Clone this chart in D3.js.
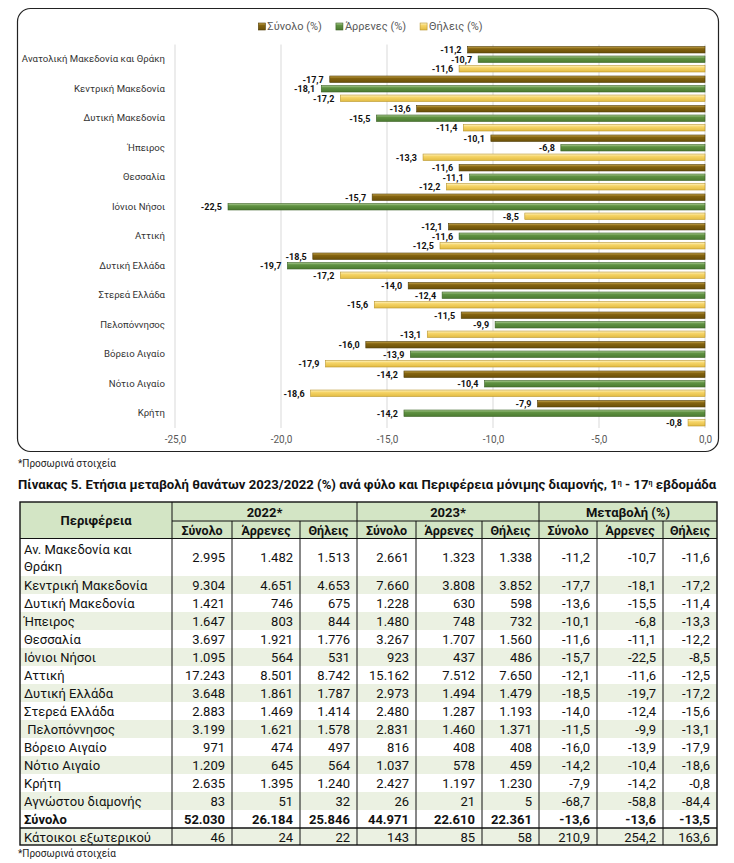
<!DOCTYPE html>
<html>
<head>
<meta charset="utf-8">
<script src="https://cdn.jsdelivr.net/npm/d3@7"></script>
<style>
  body { margin: 0; background: #fff; }
  svg { display: block; font-family: Roboto, "Open Sans", "Noto Sans", sans-serif; }
</style>
</head>
<body>
<div id="chart"></div>
<script>
// ---- chart data ----
const chartRegions = ["Ανατολική Μακεδονία και Θράκη", "Κεντρική Μακεδονία", "Δυτική Μακεδονία", "Ήπειρος",
  "Θεσσαλία", "Ιόνιοι Νήσοι", "Αττική", "Δυτική Ελλάδα", "Στερεά Ελλάδα", "Πελοπόννησος",
  "Βόρειο Αιγαίο", "Νότιο Αιγαίο", "Κρήτη"];
const seriesNames = ["Σύνολο (%)", "Άρρενες (%)", "Θήλεις (%)"];
const xTicks = [-25, -20, -15, -10, -5, 0];

// ---- table data ----
const tableRegions = ["Αν. Μακεδονία και|Θράκη", "Κεντρική Μακεδονία", "Δυτική Μακεδονία", "Ήπειρος",
  "Θεσσαλία", "Ιόνιοι Νήσοι", "Αττική", "Δυτική Ελλάδα", "Στερεά Ελλάδα", " Πελοπόννησος",
  "Βόρειο Αιγαίο", "Νότιο Αιγαίο", "Κρήτη", "Αγνώστου διαμονής", "Σύνολο", "Κάτοικοι εξωτερικού"];
const yearGroups = ["2022*", "2023*", "Μεταβολή (%)"];
const subHeaders = ["Σύνολο", "Άρρενες", "Θήλεις"];
const total2022 = [2995, 9304, 1421, 1647, 3697, 1095, 17243, 3648, 2883, 3199, 971, 1209, 2635, 83, 52030, 46];
const male2022 = [1482, 4651, 746, 803, 1921, 564, 8501, 1861, 1469, 1621, 474, 645, 1395, 51, 26184, 24];
const female2022 = [1513, 4653, 675, 844, 1776, 531, 8742, 1787, 1414, 1578, 497, 564, 1240, 32, 25846, 22];
const total2023 = [2661, 7660, 1228, 1480, 3267, 923, 15162, 2973, 2480, 2831, 816, 1037, 2427, 26, 44971, 143];
const male2023 = [1323, 3808, 630, 748, 1707, 437, 7512, 1494, 1287, 1460, 408, 578, 1197, 21, 22610, 85];
const female2023 = [1338, 3852, 598, 732, 1560, 486, 7650, 1479, 1193, 1371, 408, 459, 1230, 5, 22361, 58];
const changeTotal = [-11.2, -17.7, -13.6, -10.1, -11.6, -15.7, -12.1, -18.5, -14.0, -11.5, -16.0, -14.2, -7.9, -68.7, -13.6, 210.9];
const changeMale = [-10.7, -18.1, -15.5, -6.8, -11.1, -22.5, -11.6, -19.7, -12.4, -9.9, -13.9, -10.4, -14.2, -58.8, -13.6, 254.2];
const changeFemale = [-11.6, -17.2, -11.4, -13.3, -12.2, -8.5, -12.5, -17.2, -15.6, -13.1, -17.9, -18.6, -0.8, -84.4, -13.5, 163.6];

const WIDTH = 734;
const HEIGHT = 863;

var locale = d3.formatLocale({ decimal: ",", thousands: ".", grouping: [3], currency: ["", "€"], minus: "-" });
var fmtInt = locale.format(",d");
var fmtPct = locale.format(",.1f");

const svg = d3.select("#chart")
  .append("svg")
  .attr("width", WIDTH)
  .attr("height", HEIGHT);

// bar gradients (Excel-like bevel)
var palette = [
  { light: "#c9a84e", base: "#846410", dark: "#6a5008", stroke: "#4e3b06" },
  { light: "#afcf95", base: "#609242", dark: "#4b7a30", stroke: "#3a6023" },
  { light: "#fff4c4", base: "#f6d568", dark: "#e2bb42", stroke: "#b8952c" }
];
var defs = svg.append("defs");
palette.forEach(function (p, i) {
  var g = defs.append("linearGradient").attr("id", "grad" + i)
    .attr("x1", 0).attr("y1", 0).attr("x2", 0).attr("y2", 1);
  g.append("stop").attr("offset", "0%").attr("stop-color", p.light);
  g.append("stop").attr("offset", "35%").attr("stop-color", p.base);
  g.append("stop").attr("offset", "100%").attr("stop-color", p.dark);
});

// frame
svg.append("rect")
  .attr("x", 17.5).attr("y", 8.5)
  .attr("width", 701).attr("height", 443)
  .attr("rx", 13)
  .style("fill", "none")
  .style("stroke", "#222")
  .style("stroke-width", 1.2);

// scales
var x = d3.scaleLinear().domain([-25, 0]).range([175, 705]);
var y = d3.scaleBand().domain(chartRegions).range([44.5, 428]).padding(0);
var ySub = d3.scaleBand().domain(d3.range(seriesNames.length)).range([0, y.bandwidth()])
  .paddingInner(0.32).paddingOuter(0.21);

// gridlines
svg.append("g").selectAll("line")
  .data(xTicks)
  .enter().append("line")
  .attr("x1", d => x(d)).attr("x2", d => x(d))
  .attr("y1", 44.5).attr("y2", 428)
  .style("stroke", "#d9d9d9")
  .style("stroke-width", 1);

// x axis
var xAxis = svg.append("g")
  .attr("transform", "translate(0,428)")
  .call(d3.axisBottom(x).tickValues(xTicks).tickFormat(fmtPct).tickSize(0).tickPadding(8));
xAxis.select(".domain").remove();
xAxis.selectAll("text")
  .style("font-family", "Roboto, sans-serif")
  .style("font-size", "10px")
  .style("fill", "#595959");

// y axis (category names)
var yAxis = svg.append("g")
  .attr("transform", "translate(175,0)")
  .call(d3.axisLeft(y).tickSize(0).tickPadding(10));
yAxis.select(".domain").remove();
yAxis.selectAll("text")
  .style("font-family", "Roboto, sans-serif")
  .style("font-size", "9.6px")
  .style("fill", "#333");

// bars + labels
var seriesData = [changeTotal, changeMale, changeFemale].map(function (arr, s) {
  return chartRegions.map(function (r, i) { return { region: r, s: s, v: arr[i] }; });
});

var bars = svg.append("g");
seriesData.forEach(function (rows, s) {
  bars.selectAll(".bar" + s)
    .data(rows)
    .enter().append("rect")
    .attr("class", "bar" + s)
    .attr("x", d => x(d.v))
    .attr("y", d => y(d.region) + ySub(s))
    .attr("width", d => x(0) - x(d.v))
    .attr("height", ySub.bandwidth())
    .style("fill", "url(#grad" + s + ")")
    .style("stroke", palette[s].stroke)
    .style("stroke-width", 0.6);

  bars.selectAll(".lab" + s)
    .data(rows)
    .enter().append("text")
    .attr("class", "lab" + s)
    .attr("x", d => x(d.v) - 6)
    .attr("y", d => y(d.region) + ySub(s) + ySub.bandwidth() / 2 + 0.5)
    .attr("text-anchor", "end")
    .attr("dominant-baseline", "central")
    .style("font-size", "9px")
    .style("font-weight", "bold")
    .style("fill", "#111")
    .text(d => fmtPct(d.v));
});

// legend
var legend = svg.append("g");
var legendX = 0;
seriesNames.forEach(function (name, s) {
  var item = legend.append("g").attr("transform", "translate(" + legendX + ",0)");
  item.append("rect")
    .attr("x", 0).attr("y", -3.5)
    .attr("width", 7).attr("height", 7)
    .style("fill", "url(#grad" + s + ")")
    .style("stroke", palette[s].stroke)
    .style("stroke-width", 0.6);
  var t = item.append("text")
    .attr("x", 9).attr("y", 0)
    .attr("dominant-baseline", "central")
    .style("font-size", "11px")
    .style("fill", "#595959")
    .text(name);
  legendX += 9 + t.node().getComputedTextLength() + 14;
});
legendX -= 14;
legend.attr("transform", "translate(" + (370.5 - legendX / 2) + ",26.5)");

// footnote under chart
svg.append("text")
  .attr("x", 18).attr("y", 467)
  .style("font-size", "10px")
  .style("fill", "#222")
  .text("*Προσωρινά στοιχεία");

// table title (sized to run across the table width)
var title = svg.append("text")
  .attr("x", 18).attr("y", 488.5)
  .style("font-size", "12px")
  .style("font-weight", "bold")
  .style("fill", "#111");
title.append("tspan").text("Πίνακας 5. Ετήσια μεταβολή θανάτων 2023/2022 (%) ανά φύλο και Περιφέρεια μόνιμης διαμονής, 1");
title.append("tspan").attr("dy", -4).style("font-size", "7px").text("η");
title.append("tspan").attr("dy", 4).text(" - 17");
title.append("tspan").attr("dy", -4).style("font-size", "7px").text("η");
title.append("tspan").attr("dy", 4).text(" εβδομάδα");
var titleLen = title.node().getComputedTextLength();
title.attr("textLength", 699).attr("lengthAdjust", "spacingAndGlyphs");
if (titleLen > 0) title.style("font-size", (12 * 699 / titleLen).toFixed(2) + "px").attr("textLength", null);

// ---- table ----
var colEdges = [20, 172, 232, 300, 357, 416, 482, 539, 597, 663, 717];
var tableTop = 502, headRow = 521, headBottom = 538.5, firstRowBottom = 576;
var rowY = d3.scaleLinear().domain([1, 15]).range([576, 828]);   // top of row i (i >= 1)
var tableBottom = 845;

var columns = [
  { vals: total2022, f: fmtInt }, { vals: male2022, f: fmtInt }, { vals: female2022, f: fmtInt },
  { vals: total2023, f: fmtInt }, { vals: male2023, f: fmtInt }, { vals: female2023, f: fmtInt },
  { vals: changeTotal, f: fmtPct }, { vals: changeMale, f: fmtPct }, { vals: changeFemale, f: fmtPct }
];

var table = svg.append("g");
function rowTop(i) { return i === 0 ? headBottom : rowY(i); }
function rowBottom(i) { return i === 0 ? firstRowBottom : (i === 15 ? tableBottom : rowY(i + 1)); }

// header background
table.append("rect")
  .attr("x", colEdges[0]).attr("y", tableTop)
  .attr("width", colEdges[10] - colEdges[0]).attr("height", headBottom - tableTop)
  .style("fill", "#d3e5c5");

// striped rows
table.selectAll(".stripe")
  .data(tableRegions.map((r, i) => i).filter(i => i % 2 === 1))
  .enter().append("rect")
  .attr("class", "stripe")
  .attr("x", colEdges[0]).attr("y", d => rowTop(d))
  .attr("width", colEdges[10] - colEdges[0])
  .attr("height", d => rowBottom(d) - rowTop(d))
  .style("fill", "#ebf1e2");

// header texts
table.append("text")
  .attr("x", (colEdges[0] + colEdges[1]) / 2).attr("y", (tableTop + headBottom) / 2)
  .attr("text-anchor", "middle").attr("dominant-baseline", "central")
  .style("font-size", "13px").style("font-weight", "bold").style("fill", "#111")
  .text("Περιφέρεια");
yearGroups.forEach(function (g, k) {
  table.append("text")
    .attr("x", (colEdges[1 + 3 * k] + colEdges[4 + 3 * k]) / 2)
    .attr("y", (tableTop + headRow) / 2 + 0.5)
    .attr("text-anchor", "middle").attr("dominant-baseline", "central")
    .style("font-size", "13px").style("font-weight", "bold").style("fill", "#111")
    .text(g);
  subHeaders.forEach(function (h, j) {
    var c = 1 + 3 * k + j;
    table.append("text")
      .attr("x", (colEdges[c] + colEdges[c + 1]) / 2)
      .attr("y", (headRow + headBottom) / 2 + 0.5)
      .attr("text-anchor", "middle").attr("dominant-baseline", "central")
      .style("font-size", "12.5px").style("font-weight", "bold").style("fill", "#111")
      .text(h);
  });
});

// body texts
tableRegions.forEach(function (name, i) {
  var mid = (rowTop(i) + rowBottom(i)) / 2 + 0.5;
  var bold = name === "Σύνολο" ? "bold" : "normal";
  var parts = name.split("|");
  parts.forEach(function (p, k) {
    table.append("text")
      .attr("x", colEdges[0] + 4)
      .attr("y", mid + (k - (parts.length - 1) / 2) * 17)
      .attr("dominant-baseline", "central")
      .style("white-space", "pre")
      .style("font-size", "13px").style("font-weight", bold).style("fill", "#111")
      .text(p);
  });
  columns.forEach(function (col, c) {
    table.append("text")
      .attr("x", colEdges[c + 2] - 7)
      .attr("y", mid)
      .attr("text-anchor", "end").attr("dominant-baseline", "central")
      .style("font-size", "13px").style("font-weight", bold).style("fill", "#111")
      .text(col.f(col.vals[i]));
  });
});

// table lines
var lines = table.append("g").style("stroke", "#111").style("fill", "none");
colEdges.slice(1, 10).forEach(function (cx, k) {
  var isGroupInner = [2, 3, 5, 6, 8, 9].indexOf(k + 1) >= 0;
  lines.append("line")
    .attr("x1", cx).attr("x2", cx)
    .attr("y1", isGroupInner ? headRow : tableTop).attr("y2", tableBottom)
    .style("stroke-width", 1);
});
lines.append("line").attr("x1", colEdges[1]).attr("x2", colEdges[10])
  .attr("y1", headRow).attr("y2", headRow).style("stroke-width", 1);
lines.append("line").attr("x1", colEdges[0]).attr("x2", colEdges[10])
  .attr("y1", headBottom).attr("y2", headBottom).style("stroke-width", 1.2);
lines.append("line").attr("x1", colEdges[0]).attr("x2", colEdges[10])
  .attr("y1", rowTop(15)).attr("y2", rowTop(15)).style("stroke-width", 1.6);
lines.append("rect")
  .attr("x", colEdges[0]).attr("y", tableTop)
  .attr("width", colEdges[10] - colEdges[0]).attr("height", tableBottom - tableTop)
  .style("stroke-width", 1.4);

// footnote under table
svg.append("text")
  .attr("x", 18).attr("y", 857)
  .style("font-size", "10px")
  .style("fill", "#222")
  .text("*Προσωρινά στοιχεία");
</script>
</body>
</html>
